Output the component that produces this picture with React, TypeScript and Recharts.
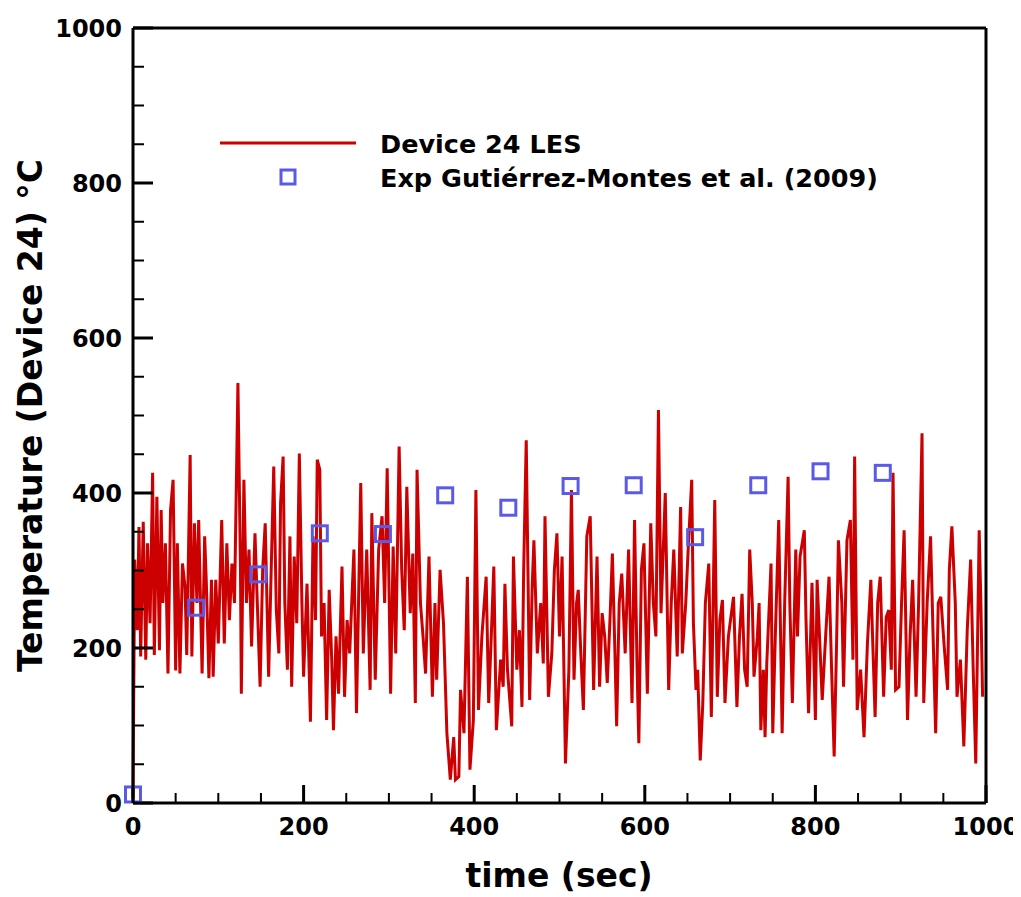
import { ComposedChart, Line, Scatter, XAxis, YAxis, Legend, Label } from "recharts";

// LES signal, Device 24 (time in s, temperature in °C)
const lesTime = [
  0, 2, 5, 7, 9, 12, 15, 17, 20, 23, 25, 28, 31, 33, 35, 38, 41, 44, 47, 50,
  52, 55, 58, 61, 63, 67, 69, 72, 75, 77, 81, 84, 86, 89, 92, 94, 97, 100, 104, 107,
  110, 113, 116, 119, 123, 126, 127, 130, 133, 136, 139, 143, 146, 149, 152, 155, 159, 162, 165, 168,
  171, 173, 176, 178, 181, 184, 186, 189, 192, 195, 198, 200, 204, 208, 211, 214, 216, 219, 221, 224,
  227, 230, 233, 235, 238, 241, 245, 248, 251, 254, 259, 262, 267, 270, 274, 278, 280, 284, 288, 292,
  295, 298, 302, 305, 308, 312, 315, 318, 321, 325, 328, 331, 333, 337, 340, 343, 347, 351, 354, 356,
  360, 364, 368, 372, 376, 378, 382, 384, 388, 392, 395, 399, 402, 405, 409, 414, 417, 420, 423, 426,
  431, 434, 436, 439, 444, 446, 450, 453, 456, 458, 461, 465, 468, 470, 474, 478, 481, 483, 487, 491,
  494, 497, 500, 503, 507, 511, 514, 517, 520, 522, 525, 528, 532, 536, 540, 544, 547, 550, 553, 556,
  559, 562, 565, 567, 570, 573, 577, 581, 585, 588, 591, 593, 596, 599, 603, 607, 610, 613, 616, 619,
  624, 628, 631, 634, 638, 642, 644, 648, 651, 655, 657, 660, 662, 665, 668, 671, 675, 678, 682, 685,
  688, 691, 694, 698, 704, 708, 711, 714, 717, 720, 723, 726, 728, 732, 734, 736, 739, 741, 743, 748,
  750, 753, 757, 761, 764, 768, 770, 773, 777, 779, 782, 787, 789, 792, 796, 800, 802, 808, 812, 816,
  819, 822, 825, 827, 831, 833, 837, 841, 844, 846, 849, 853, 857, 861, 865, 867, 870, 873, 876, 880,
  883, 886, 889, 891, 894, 898, 901, 904, 908, 911, 914, 918, 921, 925, 927, 931, 935, 938, 941, 944,
  947, 951, 955, 957, 960, 964, 966, 970, 974, 978, 982, 985, 988, 992, 994, 996,
];
const lesTemp = [
  6, 314, 223, 356, 189, 363, 185, 335, 232, 426, 191, 395, 197, 378, 258, 335, 167, 378, 417, 171,
  335, 167, 309, 279, 191, 449, 189, 361, 258, 365, 167, 344, 283, 161, 288, 163, 288, 206, 365, 206,
  335, 236, 309, 258, 542, 301, 141, 417, 258, 327, 202, 348, 249, 150, 301, 361, 163, 301, 434, 249,
  193, 387, 447, 258, 172, 344, 150, 318, 232, 451, 258, 163, 283, 105, 344, 236, 443, 430, 215, 258,
  107, 275, 184, 94, 215, 141, 305, 137, 236, 193, 327, 116, 413, 193, 327, 146, 374, 159, 327, 370,
  258, 432, 141, 331, 193, 460, 301, 223, 408, 245, 322, 129, 430, 258, 215, 167, 318, 137, 258, 159,
  301, 232, 90, 30, 85, 30, 34, 146, 90, 292, 43, 107, 404, 120, 215, 292, 129, 215, 305, 94,
  185, 150, 283, 172, 99, 318, 172, 223, 124, 301, 468, 133, 279, 339, 193, 258, 180, 370, 137, 193,
  301, 348, 215, 318, 51, 172, 404, 159, 258, 275, 193, 120, 344, 370, 146, 318, 150, 245, 215, 155,
  232, 322, 193, 99, 258, 296, 193, 327, 129, 365, 172, 77, 301, 335, 141, 361, 258, 215, 507, 245,
  400, 146, 258, 327, 189, 382, 193, 258, 331, 417, 232, 146, 172, 55, 129, 258, 309, 111, 391, 137,
  236, 262, 129, 215, 266, 124, 215, 270, 172, 150, 327, 258, 163, 215, 258, 94, 172, 85, 180, 309,
  90, 215, 365, 90, 258, 421, 258, 129, 327, 215, 318, 352, 236, 116, 284, 107, 288, 133, 215, 292,
  172, 60, 215, 339, 258, 150, 339, 365, 185, 447, 120, 172, 85, 206, 288, 215, 111, 258, 292, 137,
  240, 249, 172, 426, 146, 150, 258, 352, 107, 215, 288, 137, 258, 477, 129, 258, 344, 215, 90, 258,
  266, 202, 146, 301, 357, 258, 137, 185, 73, 223, 314, 172, 51, 352, 258, 137,
];

// Experimental points, Gutiérrez-Montes et al. (2009)
const expTime = [0, 74, 147, 219, 293, 366, 440, 513, 587, 659, 733, 806, 879];
const expTemp = [11, 252, 295, 348, 347, 397, 381, 409, 410, 343, 410, 428, 426];

const tickValues = [
  0, 50, 100, 150, 200, 250, 300, 350, 400, 450, 500,
  550, 600, 650, 700, 750, 800, 850, 900, 950, 1000,
];
const labeledTicks = [0, 200, 400, 600, 800, 1000];

const lesData = lesTime.map((t, i) => ({ t, v: lesTemp[i] }));
const expData = expTime.map((t, i) => ({ t, v: expTemp[i] }));

const RED = "#cc0000";
const BLUE = "#5a5ae6";
const FONT = "'DejaVu Sans', sans-serif";

const isMajor = (v: number) => labeledTicks.includes(v);

function LeftTick({ x, y, payload }: any) {
  const major = isMajor(payload.value);
  return (
    <g>
      <line x1={x} y1={y} x2={x + (major ? 20 : 11)} y2={y} stroke="#000" strokeWidth={major ? 3 : 2} />
      {major && (
        <text x={x - 11} y={y} dy="0.36em" textAnchor="end" fontFamily={FONT} fontWeight="bold" fontSize={24} fill="#000">
          {payload.value}
        </text>
      )}
    </g>
  );
}

function RightTick({ x, y, payload }: any) {
  const major = isMajor(payload.value);
  return <line x1={x} y1={y} x2={x - (major ? 20 : 11)} y2={y} stroke="#000" strokeWidth={major ? 3 : 2} />;
}

function BottomTick({ x, y, payload }: any) {
  const major = isMajor(payload.value);
  return (
    <g>
      <line x1={x} y1={y} x2={x} y2={y - (major ? 18 : 10)} stroke="#000" strokeWidth={major ? 3 : 2} />
      {major && (
        <text x={x} y={y + 32} textAnchor="middle" fontFamily={FONT} fontWeight="bold" fontSize={24} fill="#000">
          {payload.value}
        </text>
      )}
    </g>
  );
}

function TopTick({ x, y, payload }: any) {
  const major = isMajor(payload.value);
  return <line x1={x} y1={y} x2={x} y2={y + (major ? 18 : 10)} stroke="#000" strokeWidth={major ? 3 : 2} />;
}

function SquareShape({ cx, cy }: any) {
  return <rect x={cx - 7.5} y={cy - 7.5} width={15} height={15} fill="none" stroke={BLUE} strokeWidth={3} />;
}

function LegendBox() {
  return (
    <svg width={680} height={80}>
      <line x1={5} y1={18} x2={141} y2={18} stroke={RED} strokeWidth={3} />
      <text x={165} y={28} fontFamily={FONT} fontWeight="bold" fontSize={25.5} fill="#000">
        Device 24 LES
      </text>
      <rect x={66} y={45} width={14} height={14} fill="none" stroke={BLUE} strokeWidth={3} />
      <text x={165} y={62} fontFamily={FONT} fontWeight="bold" fontSize={25.5} fill="#000">
        Exp Gutiérrez-Montes et al. (2009)
      </text>
    </svg>
  );
}

const axisLine = { stroke: "#000", strokeWidth: 3 };

export default function App() {
  return (
    <ComposedChart width={1013} height={889} margin={{ top: 19, right: 34, bottom: 93, left: 124 }}>
      <XAxis
        dataKey="t"
        type="number"
        domain={[0, 1000]}
        ticks={tickValues}
        interval={0}
        height={1}
        tickSize={0}
        tickMargin={0}
        tickLine={false}
        axisLine={axisLine}
        tick={<BottomTick />}
      >
        <Label
          content={() => (
            <text x={551} y={879} textAnchor="middle" fontFamily={FONT} fontWeight="bold" fontSize={33} fill="#000">
              time (sec)
            </text>
          )}
        />
      </XAxis>
      <XAxis
        xAxisId="top"
        orientation="top"
        type="number"
        domain={[0, 1000]}
        ticks={tickValues}
        interval={0}
        height={1}
        tickSize={0}
        tickMargin={0}
        tickLine={false}
        axisLine={axisLine}
        tick={<TopTick />}
      />
      <YAxis
        dataKey="v"
        type="number"
        domain={[0, 1000]}
        ticks={tickValues}
        interval={0}
        width={1}
        tickSize={0}
        tickMargin={0}
        tickLine={false}
        axisLine={axisLine}
        tick={<LeftTick />}
      >
        <Label
          content={() => (
            <text
              x={34}
              y={407.5}
              transform="rotate(-90 34 407.5)"
              textAnchor="middle"
              fontFamily={FONT}
              fontWeight="bold"
              fontSize={33}
              fill="#000"
            >
              Temperature (Device 24) °C
            </text>
          )}
        />
      </YAxis>
      <YAxis
        yAxisId="right"
        orientation="right"
        type="number"
        domain={[0, 1000]}
        ticks={tickValues}
        interval={0}
        width={1}
        tickSize={0}
        tickMargin={0}
        tickLine={false}
        axisLine={axisLine}
        tick={<RightTick />}
      />
      <Legend
        layout="vertical"
        align="center"
        verticalAlign="middle"
        wrapperStyle={{ left: 207, top: 117, width: 680, height: 80 }}
        content={() => <LegendBox />}
      />
      <Line
        data={lesData}
        dataKey="v"
        type="linear"
        stroke={RED}
        strokeWidth={3}
        strokeLinejoin="miter"
        dot={false}
        activeDot={false}
        legendType="none"
        isAnimationActive={false}
      />
      <Scatter data={expData} dataKey="v" shape={<SquareShape />} isAnimationActive={false} />
    </ComposedChart>
  );
}
